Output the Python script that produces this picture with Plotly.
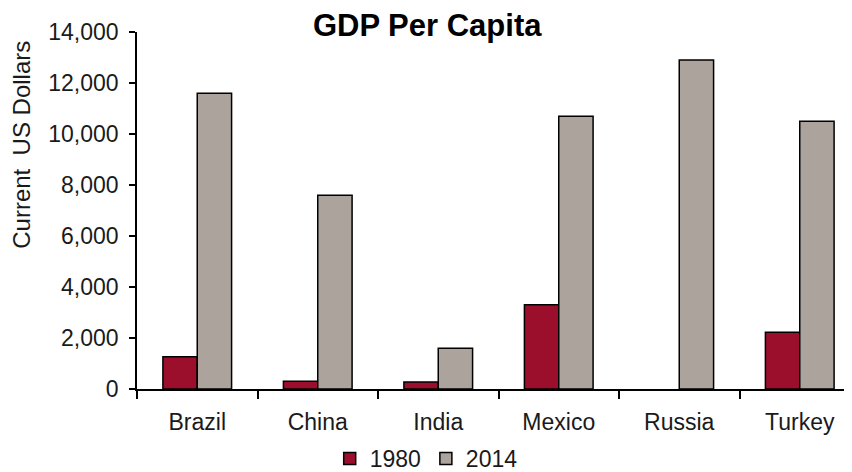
import plotly.graph_objects as go

countries = ["Brazil", "China", "India", "Mexico", "Russia", "Turkey"]
gdp_1980 = [1260, 300, 270, 3300, None, 2230]
gdp_2014 = [11600, 7600, 1600, 10700, 12900, 10500]

RED = "#9b0f2d"
GRAY = "#aba39c"
INK = "#000000"
FONT = "Liberation Sans, Arial, sans-serif"

fig = go.Figure()
fig.add_trace(go.Bar(
    x=countries, y=gdp_1980, name="1980",
    marker=dict(color=RED, line=dict(color=INK, width=1.5)),
))
fig.add_trace(go.Bar(
    x=countries, y=gdp_2014, name="2014",
    marker=dict(color=GRAY, line=dict(color=INK, width=1.5)),
))

# the page body adds an 8px offset, so margins are trimmed by 8
fig.update_layout(
    width=852, height=472,
    paper_bgcolor="white", plot_bgcolor="white",
    font=dict(family=FONT, size=23, color="#1a1a1a"),
    title=dict(text="<b>GDP Per Capita</b>", x=0.492, xanchor="center",
               y=0.963, yanchor="middle", font=dict(size=31, color=INK)),
    margin=dict(l=129, r=0, t=24, b=88),
    barmode="group", bargap=0.43, bargroupgap=0,
    showlegend=True,
    legend=dict(orientation="h", x=0.40, xanchor="center", y=-0.195,
                yanchor="middle", font=dict(size=23), itemwidth=30,
                tracegroupgap=0),
)
fig.add_annotation(
    text="Current  US Dollars", textangle=-90, showarrow=False,
    xref="paper", yref="paper", x=-0.16, y=0.685,
    xanchor="center", yanchor="middle",
    font=dict(size=24, color="#1a1a1a"),
)
fig.update_xaxes(
    range=[-0.5, 5.5], showline=True, linecolor=INK, linewidth=1.5,
    ticks="outside", tickson="boundaries", ticklen=8, tickcolor=INK,
    tickwidth=1.5, showgrid=False, automargin=False, ticklabelstandoff=12,
)
fig.update_yaxes(
    range=[0, 14000], dtick=2000, tickformat=",d",
    showline=True, linecolor=INK, linewidth=1.5,
    ticks="outside", ticklen=6, tickcolor=INK, tickwidth=1.5,
    showgrid=False, zeroline=False, automargin=False, ticklabelstandoff=6,
)

fig.write_html("out.html")
